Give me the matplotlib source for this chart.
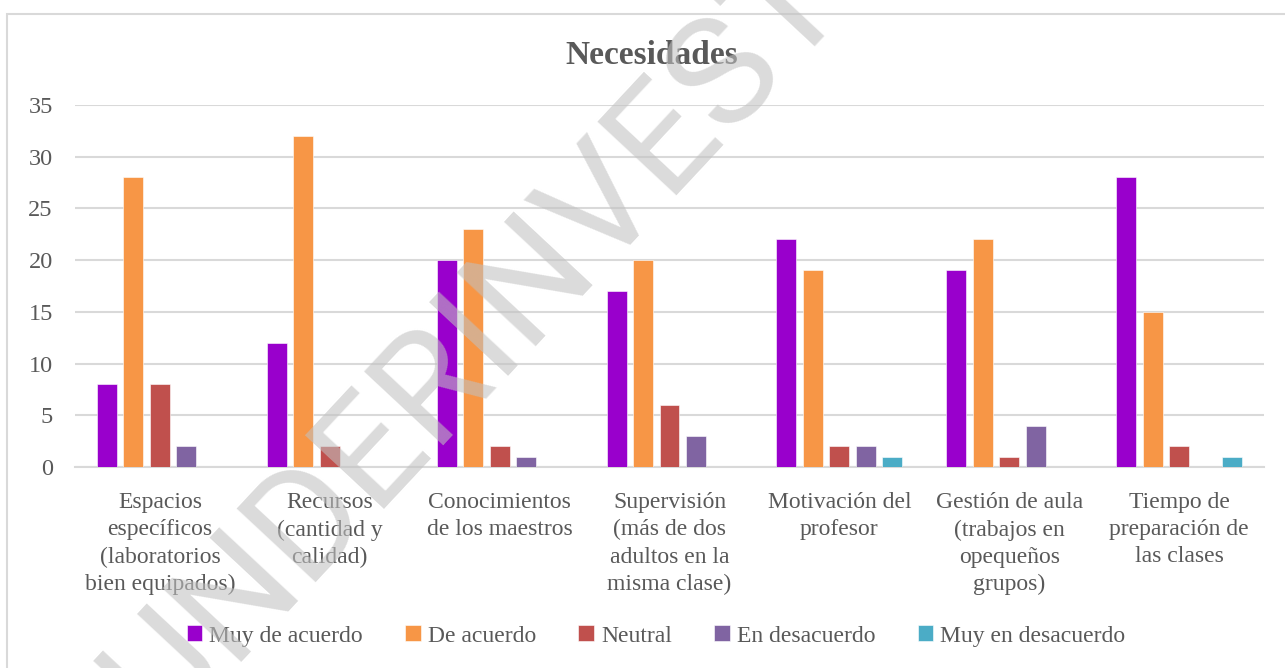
import numpy as np
import matplotlib
matplotlib.use("Agg")
import matplotlib.pyplot as plt
from matplotlib.patches import Rectangle

# Dati
categorie = [
    "Espacios\nespecíficos\n(laboratorios\nbien equipados)",
    "Recursos\n(cantidad y\ncalidad)",
    "Conocimientos\nde los maestros",
    "Supervisión\n(más de dos\nadultos en la\nmisma clase)",
    "Motivación del\nprofesor",
    "Gestión de aula\n(trabajos en\nopequeños\ngrupos)",
    "Tiempo de\npreparación de\nlas clases",
]
serie = ["Muy de acuerdo", "De acuerdo", "Neutral", "En desacuerdo", "Muy en desacuerdo"]
muy_de_acuerdo = [8, 12, 20, 17, 22, 19, 28]
de_acuerdo = [28, 32, 23, 20, 19, 22, 15]
neutral = [8, 2, 2, 6, 2, 1, 2]
en_desacuerdo = [2, 0, 1, 3, 2, 4, 0]
muy_en_desacuerdo = [0, 0, 0, 0, 1, 0, 1]
valori = [muy_de_acuerdo, de_acuerdo, neutral, en_desacuerdo, muy_en_desacuerdo]
colori = ["#9900CC", "#F79646", "#C0504D", "#8064A2", "#4BACC6"]
yticks = [0, 5, 10, 15, 20, 25, 30, 35]

testo = "#595959"
griglia = "#D9D9D9"
font = "Liberation Serif"

W, H = 1285, 668
fig = plt.figure(figsize=(W / 100, H / 100), dpi=100)
ax = fig.add_axes([75 / W, 1 - 467 / H, (1264 - 75) / W, (467 - 105) / H])

x = np.arange(len(categorie))
slot = 26.5 / 170
larg = 20 / 170
for j, (nome, v) in enumerate(zip(serie, valori)):
    ax.bar(x + (j - 2) * slot, v, width=larg, color=colori[j], label=nome,
           edgecolor="white", linewidth=0.4, zorder=3)

ax.set_xlim(-0.5, len(categorie) - 0.5)
ax.set_ylim(0, 35)
ax.set_yticks(yticks)
ax.set_yticklabels([str(t) for t in yticks], fontsize=17.5, color=testo, family=font)
ax.set_xticks(x)
ax.set_xticklabels(categorie, fontsize=17, color=testo, family=font, linespacing=1.39, va="top")
ax.tick_params(axis="both", length=0)
ax.tick_params(axis="y", pad=16)
ax.tick_params(axis="x", pad=18)
ax.grid(axis="y", color=griglia, linewidth=1.5, zorder=0)
ax.set_axisbelow(True)
for s in ["top", "right", "left"]:
    ax.spines[s].set_visible(False)
ax.spines["bottom"].set_color(griglia)
ax.spines["bottom"].set_linewidth(1.5)

# Titolo
fig.text(652 / W, 1 - 55 / H, "Necesidades", ha="center", va="center",
         fontsize=24, fontweight="bold", color=testo, family=font)

# Legenda
leg = fig.legend(loc="center", bbox_to_anchor=(656 / W, 1 - 636 / H), ncol=5,
                 frameon=False, handlelength=0.65, handleheight=0.65,
                 handletextpad=0.3, columnspacing=1.8,
                 prop={"family": font, "size": 17})
for t in leg.get_texts():
    t.set_color(testo)

# Bordo del grafico
fig.add_artist(Rectangle((7 / W, -0.1), 1.2, 1.1 - 14 / H, transform=fig.transFigure,
                         fill=False, edgecolor=griglia, linewidth=1.5))

# Filigrana
fig.text(506 / W, 1 - 368 / H, "UNDERINVEST", ha="center", va="baseline",
         rotation=47, rotation_mode="anchor", fontsize=110, family="Roboto",
         fontweight="normal", color=(193 / 255, 193 / 255, 193 / 255), alpha=0.58, zorder=10)

fig.savefig("out.png", dpi=100)
